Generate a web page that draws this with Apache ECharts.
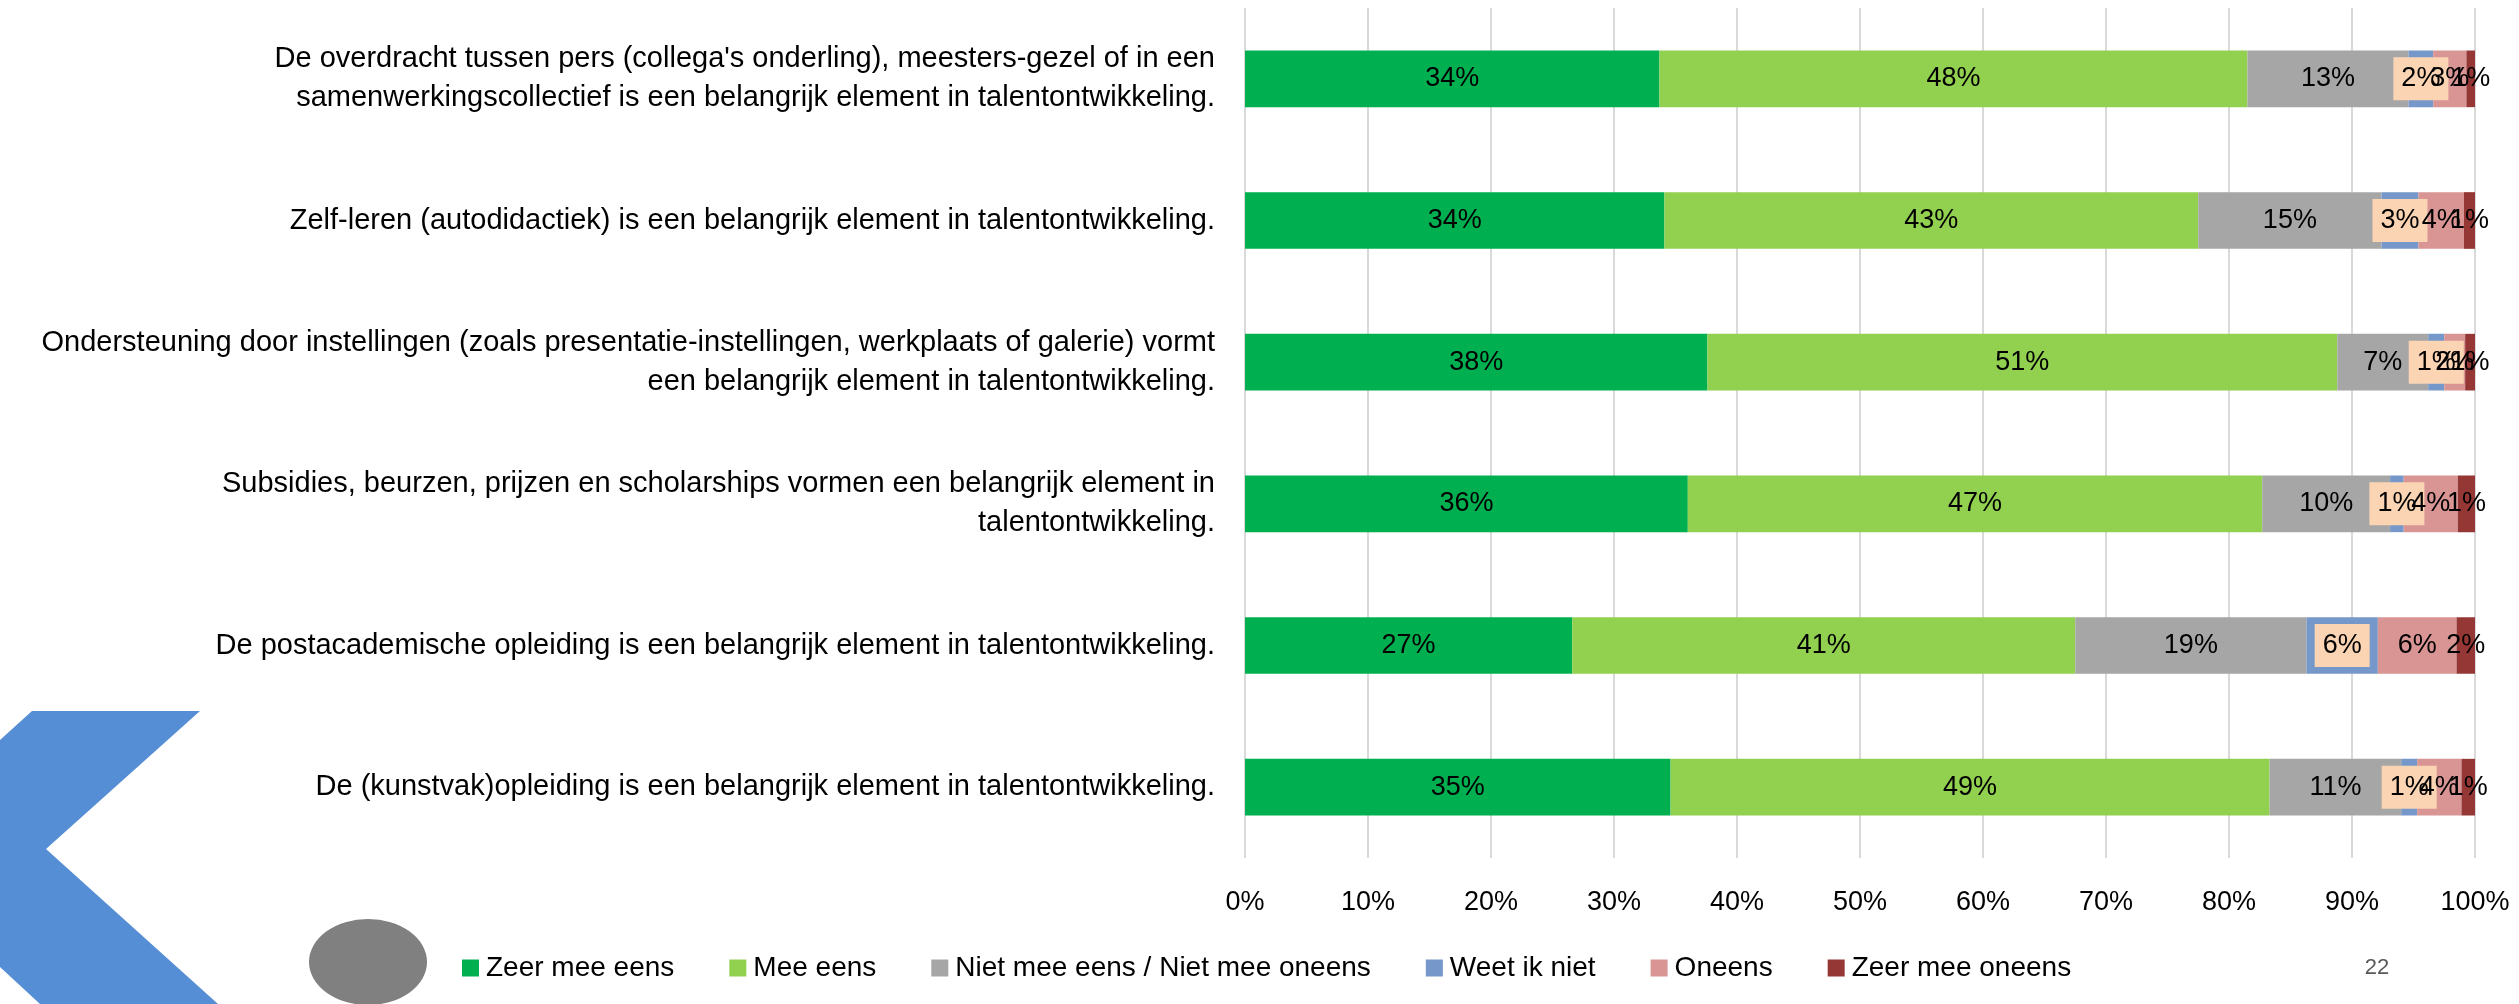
<!DOCTYPE html>
<html>
<head>
<meta charset="utf-8">
<script src="https://cdn.jsdelivr.net/npm/echarts@6/dist/echarts.min.js"></script>
<style>
	html, body { margin: 0; padding: 0; background: #fff; }
	#chart { width: 2519px; height: 1004px; }
</style>
</head>
<body>
<div id="chart"></div>
<script>
// stellingen (van boven naar beneden)
var categories = [
	"De overdracht tussen pers (collega's onderling), meesters-gezel of in een\nsamenwerkingscollectief is een belangrijk element in talentontwikkeling.",
	"Zelf-leren (autodidactiek) is een belangrijk element in talentontwikkeling.",
	"Ondersteuning door instellingen (zoals presentatie-instellingen, werkplaats of galerie) vormt\neen belangrijk element in talentontwikkeling.",
	"Subsidies, beurzen, prijzen en scholarships vormen een belangrijk element in\ntalentontwikkeling.",
	"De postacademische opleiding is een belangrijk element in talentontwikkeling.",
	"De (kunstvak)opleiding is een belangrijk element in talentontwikkeling."
];
var seriesNames = ['Zeer mee eens', 'Mee eens', 'Niet mee eens / Niet mee oneens', 'Weet ik niet', 'Oneens', 'Zeer mee oneens'];
var zeerMeeEens    = [33.7, 34.1, 37.6, 36.0, 26.6, 34.6];
var meeEens        = [47.8, 43.4, 51.2, 46.7, 40.9, 48.7];
var neutraal       = [13.1, 14.9, 7.4, 10.4, 18.8, 10.7];
var weetIkNiet     = [2.0, 3.0, 1.3, 1.1, 5.8, 1.3];
var oneens         = [2.7, 3.7, 1.7, 4.4, 6.4, 3.6];
var zeerMeeOneens  = [0.7, 0.9, 0.8, 1.4, 1.5, 1.1];
var xTicks = [0, 10, 20, 30, 40, 50, 60, 70, 80, 90, 100];

var colors = ['#00B050', '#92D050', '#A6A6A6', '#7597C9', '#D99594', '#953735'];
var font = 'Liberation Sans, Arial, sans-serif';
var values = [zeerMeeEens, meeEens, neutraal, weetIkNiet, oneens, zeerMeeOneens];

function makeSeries(i) {
	var s = {
		name: seriesNames[i],
		type: 'bar',
		stack: 'totaal',
		barCategoryGap: '60%',
		data: values[i],
		itemStyle: { color: colors[i] },
		label: {
			show: true,
			position: 'inside',
			color: '#000',
			fontFamily: font,
			fontSize: 27,
			formatter: function(p) { return Math.round(p.value) + '%'; }
		}
	};
	//Weet ik niet: label met perzikkleurige achtergrond
	if (i === 3) {
		s.label.backgroundColor = '#FBD4B4';
		s.label.padding = [8, 8, 8, 8];
	}
	return s;
}

var series = [];
for (var i = 0; i < seriesNames.length; i++) {
	series.push(makeSeries(i));
}

var option = {
	animation: false,
	backgroundColor: '#fff',
	grid: { left: 1245, right: 44, top: 8, bottom: 146 },
	xAxis: {
		type: 'value',
		min: 0,
		max: 100,
		interval: 10,
		axisLine: { show: false },
		axisTick: { show: false },
		axisLabel: {
			color: '#000',
			fontFamily: font,
			fontSize: 27,
			margin: 31,
			formatter: function(v) { return xTicks.indexOf(v) >= 0 ? v + '%' : ''; }
		},
		splitLine: { lineStyle: { color: '#D9D9D9', width: 2 } }
	},
	yAxis: {
		type: 'category',
		inverse: true,
		data: categories,
		axisLine: { show: false },
		axisTick: { show: false },
		axisLabel: {
			color: '#000',
			fontFamily: font,
			fontSize: 29,
			lineHeight: 39,
			align: 'right',
			margin: 30
		}
	},
	legend: {
		left: 457,
		top: 949,
		itemWidth: 17,
		itemHeight: 17,
		itemGap: 55,
		icon: 'rect',
		data: seriesNames,
		textStyle: { color: '#000', fontFamily: font, fontSize: 28, padding: [0, 0, 0, 2] }
	},
	graphic: [
		{
			type: 'polygon',
			shape: { points: [[0, 740], [32, 711], [200, 711], [46, 849], [218, 1004], [40, 1004], [0, 967]] },
			style: { fill: '#558ED5' },
			z: -1
		},
		{
			type: 'circle',
			x: 368,
			y: 962,
			scaleX: 59 / 43,
			shape: { cx: 0, cy: 0, r: 43 },
			style: { fill: '#808080' }
		},
		{
			type: 'text',
			x: 2377,
			y: 968,
			style: { text: '22', fill: '#595959', font: '22px ' + font, textAlign: 'center', textVerticalAlign: 'middle' }
		}
	],
	series: series
};

var chart = echarts.init(document.getElementById('chart'));
chart.setOption(option);
</script>
</body>
</html>
